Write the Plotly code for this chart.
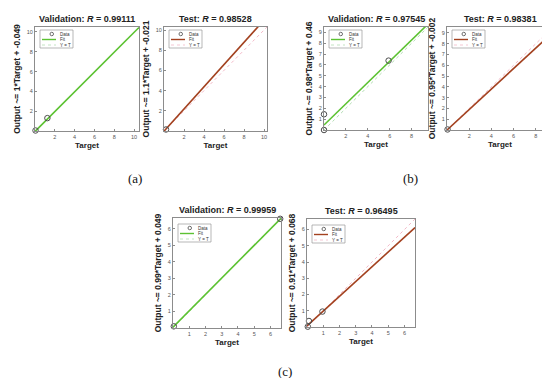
import plotly.graph_objects as go

# ---------------- data ----------------
# (a)
a_val_target = [0.05, 1.25]
a_val_output = [0.05, 1.3]
a_val_fit = [1.0, -0.049]          # slope, intercept
a_val_r = "0.99111"
a_val_lim = [0, 10.5]

a_test_target = [0.2]
a_test_output = [0.15]
a_test_fit = [1.1, -0.021]
a_test_r = "0.98528"
a_test_lim = [0, 10.3]

# (b)
b_val_target = [0.0, 0.0, 5.9]
b_val_output = [0.0, 1.45, 6.4]
b_val_fit = [0.98, 0.46]
b_val_r = "0.97545"
b_val_lim = [0, 9.5]

b_test_target = [0.05]
b_test_output = [0.05]
b_test_fit = [0.95, -0.002]
b_test_r = "0.98381"
b_test_lim = [0, 9.55]

# (c)
c_val_target = [0.05, 6.6]
c_val_output = [0.1, 6.6]
c_val_fit = [0.99, 0.049]
c_val_r = "0.99959"
c_val_lim = [0, 6.65]

c_test_target = [0.05, 0.12, 0.95]
c_test_output = [0.02, 0.37, 0.95]
c_test_fit = [0.91, 0.068]
c_test_r = "0.96495"
c_test_lim = [0, 6.65]

tick_a = [2, 4, 6, 8, 10]
tick_b = [1, 2, 3, 4, 5, 6, 7, 8, 9]
tick_b_x = [2, 4, 6, 8]
tick_c = [1, 2, 3, 4, 5, 6]

legend_items = ["Data", "Fit", "Y = T"]
panel_labels = ["(a)", "(b)", "(c)"]

# ---------------- layout helpers ----------------
W, H = 550, 378
VAL_FIT = "#5cc232"
VAL_YT = "#b4ddb4"
TEST_FIT = "#a3411f"
TEST_YT = "#f3b9c8"
MARK = "#4d4d4d"

panels = [
    # kind, target, output, fit, r, lim, xt, yt, box(px: x0,x1,ytop,ybot), legend top offset
    ("Validation", a_val_target, a_val_output, a_val_fit, a_val_r, a_val_lim, tick_a, tick_a, (27, 131, 19, 123), 3),
    ("Test", a_test_target, a_test_output, a_test_fit, a_test_r, a_test_lim, tick_a, tick_a, (156, 259, 19, 123), 3),
    ("Validation", b_val_target, b_val_output, b_val_fit, b_val_r, b_val_lim, tick_b_x, tick_b, (316, 420, 19, 122), 3),
    ("Test", b_test_target, b_test_output, b_test_fit, b_test_r, b_test_lim, tick_b_x, tick_b, (439, 545, 19, 122), 3),
    ("Validation", c_val_target, c_val_output, c_val_fit, c_val_r, c_val_lim, tick_c, tick_c, (165, 273, 210, 320), 6),
    ("Test", c_test_target, c_test_output, c_test_fit, c_test_r, c_test_lim, tick_c, tick_c, (299, 407, 211, 319), 6),
]

fig = go.Figure()
annotations = []
shapes = []
layout_extra = {}

def px_x(v):
    return v / W

def px_y(v):
    return 1 - v / H

for i, (kind, tgt, out, fit, r, lim, xt, yt, box, loff) in enumerate(panels):
    n = i + 1
    xa = "x" if n == 1 else "x%d" % n
    ya = "y" if n == 1 else "y%d" % n
    fitc = VAL_FIT if kind == "Validation" else TEST_FIT
    ytc = VAL_YT if kind == "Validation" else TEST_YT
    slope, icpt = fit

    # Y = T
    fig.add_trace(go.Scatter(x=lim, y=lim, mode="lines", name="Y = T",
                             line=dict(color=ytc, width=1, dash="dot"),
                             xaxis=xa, yaxis=ya, showlegend=False))
    # Fit
    fig.add_trace(go.Scatter(x=lim, y=[slope * v + icpt for v in lim], mode="lines", name="Fit",
                             line=dict(color=fitc, width=1.6),
                             xaxis=xa, yaxis=ya, showlegend=False))
    # Data
    fig.add_trace(go.Scatter(x=tgt, y=out, mode="markers", name="Data",
                             marker=dict(symbol="circle-open", size=5.5, color=MARK, line=dict(width=1)),
                             xaxis=xa, yaxis=ya, showlegend=False, cliponaxis=False))

    x0, x1, yt_px, yb_px = box
    xdom = [x0 / W, x1 / W]
    ydom = [1 - yb_px / H, 1 - yt_px / H]
    ylab = "Output ~= %g*Target + %g" % (slope, icpt)
    axis_common = dict(showline=True, mirror=True, linecolor="#8c8c8c", linewidth=1,
                       ticks="inside", ticklen=2, tickcolor="#8c8c8c", showgrid=False,
                       zeroline=False, tickfont=dict(size=5.5, color="#555", family="Liberation Sans"))
    layout_extra["xaxis" if n == 1 else "xaxis%d" % n] = dict(
        domain=xdom, range=lim, anchor=ya, tickvals=xt, **axis_common,
        title=dict(text="<b>Target</b>", font=dict(size=8, family="Liberation Sans", color="#222"), standoff=3))
    layout_extra["yaxis" if n == 1 else "yaxis%d" % n] = dict(
        domain=ydom, range=lim, anchor=xa, tickvals=yt, **axis_common,
        title=dict(text="<b>%s</b>" % ylab, font=dict(size=8.5, family="Liberation Sans", color="#222"), standoff=4))

    # legend (drawn as a small boxed key, like MATLAB's)
    lx0, lx1 = x0 + 5, x0 + 38
    ly0, ly1 = yt_px + loff, yt_px + loff + 18
    shapes.append(dict(type="rect", xref="paper", yref="paper",
                       x0=px_x(lx0), x1=px_x(lx1), y0=px_y(ly1), y1=px_y(ly0),
                       line=dict(color="#9a9a9a", width=0.7), fillcolor="white", layer="above"))
    rows = [ly0 + 4, ly0 + 9.5, ly0 + 15]
    shapes.append(dict(type="circle", xref="paper", yref="paper",
                       x0=px_x(lx0 + 10), x1=px_x(lx0 + 13.5), y0=px_y(rows[0] + 1.75), y1=px_y(rows[0] - 1.75),
                       line=dict(color=MARK, width=0.8), layer="above"))
    shapes.append(dict(type="line", xref="paper", yref="paper",
                       x0=px_x(lx0 + 2), x1=px_x(lx0 + 16), y0=px_y(rows[1]), y1=px_y(rows[1]),
                       line=dict(color=fitc, width=1.4), layer="above"))
    shapes.append(dict(type="line", xref="paper", yref="paper",
                       x0=px_x(lx0 + 2), x1=px_x(lx0 + 16), y0=px_y(rows[2]), y1=px_y(rows[2]),
                       line=dict(color=ytc, width=0.8, dash="dot"), layer="above"))
    for txt, ry in zip(legend_items, rows):
        annotations.append(dict(text=txt, xref="paper", yref="paper", x=px_x(lx0 + 18), y=px_y(ry),
                                xanchor="left", yanchor="middle", showarrow=False,
                                font=dict(size=4.5, family="Liberation Sans", color="#333")))

    annotations.append(dict(
        text="<b>%s: <i>R</i> = %s</b>" % (kind, r), xref="paper", yref="paper",
        x=(x0 + x1) / 2 / W, y=ydom[1], xanchor="center", yanchor="bottom", yshift=1,
        showarrow=False, font=dict(size=9, family="Liberation Sans", color="#222")))

label_pos = [(127, 170), (402, 170), (277, 363)]
for lab, (px, py) in zip(panel_labels, label_pos):
    annotations.append(dict(text=lab, xref="paper", yref="paper", x=px / W, y=1 - py / H,
                            xanchor="center", yanchor="middle", showarrow=False,
                            font=dict(size=13, family="Liberation Serif", color="#111")))

fig.update_layout(width=W, height=H, margin=dict(l=0, r=0, t=0, b=0),
                  paper_bgcolor="white", plot_bgcolor="white", showlegend=False,
                  annotations=annotations, shapes=shapes, **layout_extra)

fig.write_html("out.html")
